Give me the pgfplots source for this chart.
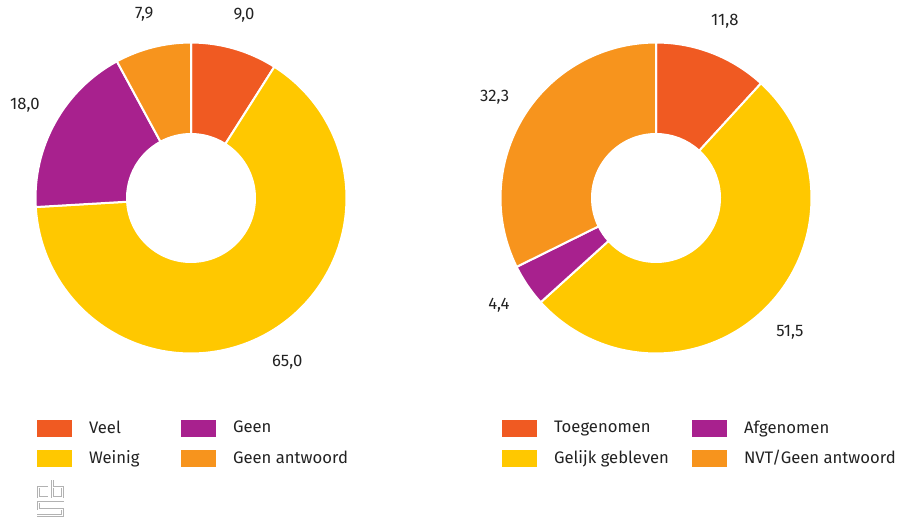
\documentclass[border=0pt]{standalone}
\usepackage{pgfplots}
\pgfplotsset{compat=1.18}
\usepackage{pgfplotstable}
\usepackage{fontspec}
\setmainfont{Fira Sans}
\usetikzlibrary{calc}

\definecolor{cRed}{HTML}{F05A22}
\definecolor{cYellow}{HTML}{FFC800}
\definecolor{cPurple}{HTML}{A8218E}
\definecolor{cOrange}{HTML}{F7941D}
\definecolor{txt}{HTML}{222222}

% values in clockwise order, starting at 12 o'clock
\pgfplotstableread{
value
9.0
65.0
18.0
7.9
}\linksdata
\pgfplotstableread{
value
11.8
51.5
4.4
32.3
}\rechtsdata

% start/end angle of every slice, stored as \<prefix>a<row>, \<prefix>b<row>
\newcommand\prepdonut[2]{%
  \gdef\tot{0}\gdef\cum{0}%
  \pgfplotstableforeachcolumnelement{value}\of#1\as\v{%
    \pgfmathparse{\tot+\v}\xdef\tot{\pgfmathresult}}%
  \pgfplotstableforeachcolumnelement{value}\of#1\as\v{%
    \pgfmathparse{90-360*(\cum/\tot)}%
    \expandafter\xdef\csname #2a\pgfplotstablerow\endcsname{\pgfmathresult}%
    \pgfmathparse{\cum+\v}\xdef\cum{\pgfmathresult}%
    \pgfmathparse{90-360*(\cum/\tot)}%
    \expandafter\xdef\csname #2b\pgfplotstablerow\endcsname{\pgfmathresult}%
    \expandafter\xdef\csname #2v\pgfplotstablerow\endcsname{\v}}%
}
\prepdonut{\linksdata}{L}
\prepdonut{\rechtsdata}{R}

\def\Ro{116.6pt}
\def\Ri{48pt}
% slice: centre x, centre y, prefix, row, colour
\newcommand\slice[5]{%
  \fill[#5, draw=white, line width=1.5pt]
    ($(axis cs:#1,#2)+(\csname #3a#4\endcsname:\Ro)$)
    arc[start angle=\csname #3a#4\endcsname, end angle=\csname #3b#4\endcsname, radius=\Ro]
    -- ($(axis cs:#1,#2)+(\csname #3b#4\endcsname:\Ri)$)
    arc[start angle=\csname #3b#4\endcsname, end angle=\csname #3a#4\endcsname, radius=\Ri]
    -- cycle;
  \node[text=txt] at ($(axis cs:#1,#2)+({(\csname #3a#4\endcsname+\csname #3b#4\endcsname)/2}:142.5pt)$)
    {\pgfmathprintnumber[fixed, fixed zerofill, precision=1, use comma, assume math mode=true]{\csname #3v#4\endcsname}};
}

% cbs logo strokes
\newcommand\logo[2]{%
  \draw[#2, line width=#1, line join=miter]
    (axis cs:48,31) -- (axis cs:38.5,31) -- (axis cs:38.5,21) -- (axis cs:48,21);
  \draw[#2, line width=#1, line join=miter]
    (axis cs:52.5,38) -- (axis cs:52.5,21) -- (axis cs:62.5,21) -- (axis cs:62.5,31) -- (axis cs:52.5,31);
  \draw[#2, line width=#1, line join=miter]
    (axis cs:64,16) -- (axis cs:38.5,16) -- (axis cs:38.5,9) -- (axis cs:62.5,9)
    -- (axis cs:62.5,2.5) -- (axis cs:37,2.5);
}

\pgfplotsset{
  donut/.style={
    x=0.75pt, y=0.75pt,
    xmin=0, xmax=899, ymin=0, ymax=518,
    hide axis, clip=false,
    legend columns=2,
    legend style={draw=none, fill=none, inner sep=0pt, outer sep=0pt,
      font=\color{txt}, row sep=0pt,
      nodes={inner sep=0pt}},
    legend cell align=left,
    legend image code/.code={%
      \path[draw=none, fill=none] (0pt,-11.25pt) rectangle (39pt,11.25pt);
      \fill[##1, draw=none] (0pt,-6.375pt) rectangle (26.25pt,6.375pt);},
  }
}

\begin{document}
\fontsize{12.5}{14.5}\selectfont
\begin{tikzpicture}
\begin{axis}[donut, legend style={at={(axis cs:37,105)}, anchor=north west}]
  \path (axis cs:0,0) rectangle (axis cs:899,518);
  \slice{191}{320}{L}{0}{cRed}
  \slice{191}{320}{L}{1}{cYellow}
  \slice{191}{320}{L}{2}{cPurple}
  \slice{191}{320}{L}{3}{cOrange}
  \addlegendimage{cRed}\addlegendentry{\makebox[69pt][l]{Veel}}
  \addlegendimage{cPurple}\addlegendentry{Geen}
  \addlegendimage{cYellow}\addlegendentry{\makebox[69pt][l]{Weinig}}
  \addlegendimage{cOrange}\addlegendentry{Geen antwoord}
  \logo{2.1pt}{gray!60}
  \logo{0.7pt}{white}
\end{axis}
\begin{axis}[donut, legend style={at={(axis cs:502,105)}, anchor=north west}]
  \slice{656}{320}{R}{0}{cRed}
  \slice{656}{320}{R}{1}{cYellow}
  \slice{656}{320}{R}{2}{cPurple}
  \slice{656}{320}{R}{3}{cOrange}
  \addlegendimage{cRed}\addlegendentry{\makebox[103.5pt][l]{Toegenomen}}
  \addlegendimage{cPurple}\addlegendentry{Afgenomen}
  \addlegendimage{cYellow}\addlegendentry{\makebox[103.5pt][l]{Gelijk gebleven}}
  \addlegendimage{cOrange}\addlegendentry{NVT/Geen antwoord}
\end{axis}
\end{tikzpicture}
\end{document}
